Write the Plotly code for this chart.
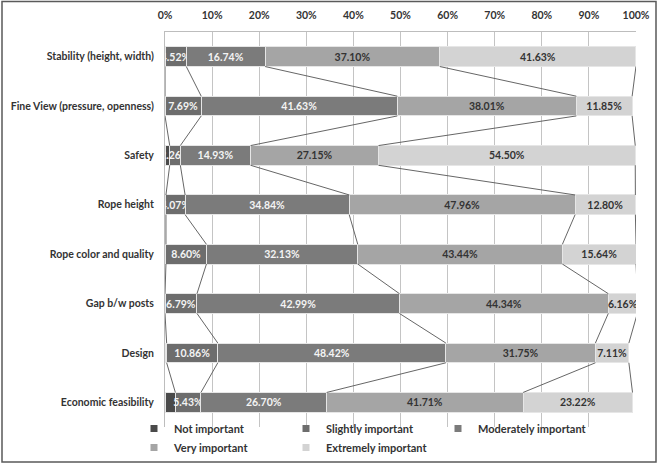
import plotly.graph_objects as go

categories = ["Stability (height, width)", "Fine View (pressure, openness)", "Safety",
              "Rope height", "Rope color and quality", "Gap b/w posts", "Design",
              "Economic feasibility"]
not_important = [0.0, 0.0, 1.0, 0.2, 0.2, 0.0, 0.35, 2.2]
slightly_important = [4.52, 7.69, 2.26, 4.07, 8.60, 6.79, 10.86, 5.43]
moderately_important = [16.74, 41.63, 14.93, 34.84, 32.13, 42.99, 48.42, 26.70]
very_important = [37.10, 38.01, 27.15, 47.96, 43.44, 44.34, 31.75, 41.71]
extremely_important = [41.63, 11.85, 54.50, 12.80, 15.64, 6.16, 7.11, 23.22]
series_names = ["Not important", "Slightly important", "Moderately important",
                "Very important", "Extremely important"]
tick_vals_x = [0, 10, 20, 30, 40, 50, 60, 70, 80, 90, 100]

series = [not_important, slightly_important, moderately_important, very_important, extremely_important]
colors = ["#4a4a4a", "#6d6d6d", "#7b7b7b", "#a5a5a5", "#d3d3d3"]
text_colors = [None, "#f4f4f4", "#f4f4f4", "#333333", "#333333"]
FONT = "Lato, Open Sans, sans-serif"
BW = 0.4
ypos = list(range(len(categories)))

fig = go.Figure()
for k, (name, vals) in enumerate(zip(series_names, series)):
    kw = {}
    if text_colors[k]:
        kw = dict(texttemplate="%{x:.2f}%", textposition="inside", insidetextanchor="middle",
                  constraintext="none", cliponaxis=True, textangle=0,
                  textfont=dict(family=FONT, size=10.5, color=text_colors[k], weight="bold"))
    fig.add_trace(go.Bar(y=ypos, x=vals, name=name, orientation="h", width=BW,
                         marker=dict(color=colors[k], line=dict(color="#e6e6e6", width=1)),
                         hoverinfo="skip", showlegend=False, **kw))

# legend entries (small square keys)
for k, name in enumerate(series_names):
    fig.add_trace(go.Scatter(x=[None], y=[None], mode="markers", name=name,
                             marker=dict(symbol="square", size=7, color=colors[k]),
                             hoverinfo="skip", showlegend=True))

# series lines connecting cumulative ends
cum = [0.0] * len(categories)
for k, vals in enumerate(series):
    cum = [c + v for c, v in zip(cum, vals)]
    xs, ys = [], []
    for i in range(len(categories) - 1):
        xs += [cum[i], cum[i + 1], None]
        ys += [i + BW / 2, i + 1 - BW / 2, None]
    fig.add_trace(go.Scatter(x=xs, y=ys, mode="lines", showlegend=False, hoverinfo="skip",
                             line=dict(color="#555555", width=0.9)))

L, R, T, B = 165, 25, 32, 37
W, H = 661, 464
pw, ph = W - L - R, H - T - B
def px(x):
    return (x - L) / pw
def py(y):
    return (H - B - y) / ph

fig.add_shape(type="rect", xref="paper", yref="paper", x0=px(2), x1=px(656), y0=py(462), y1=py(1.5),
              line=dict(color="#5a5a5a", width=1.5), fillcolor="rgba(0,0,0,0)", layer="above")

fig.update_layout(
    width=W, height=H, barmode="stack", bargap=0.6,
    margin=dict(l=L, r=R, t=T, b=B, autoexpand=False),
    paper_bgcolor="white", plot_bgcolor="white",
    font=dict(family=FONT, size=11, color="#333333"),
    xaxis=dict(side="top", range=[0, 100], tickvals=tick_vals_x,
               ticktext=[f"{v}%" for v in tick_vals_x], showgrid=True, gridcolor="#c4c4c4",
               gridwidth=1, showline=True, linecolor="#bdbdbd", zeroline=False,
               ticks="", ticklabelstandoff=8,
               tickfont=dict(family=FONT, size=10.5, color="#333333", weight="bold")),
    yaxis=dict(range=[len(categories) - 0.5, -0.5], tickvals=ypos, ticktext=categories,
               showgrid=False, zeroline=False, showline=True, linecolor="#bdbdbd",
               ticks="", ticklabelstandoff=8,
               tickfont=dict(family=FONT, size=10.5, color="#333333", weight="bold")),
    legend=dict(orientation="h", x=px(362), xanchor="center", y=py(462), yanchor="bottom",
                entrywidth=107, entrywidthmode="pixels", itemwidth=30, traceorder="normal",
                bgcolor="rgba(0,0,0,0)",
                font=dict(family=FONT, size=11, color="#333333", weight="bold"),
                tracegroupgap=0),
    showlegend=True,
)

fig.write_html("out.html")
